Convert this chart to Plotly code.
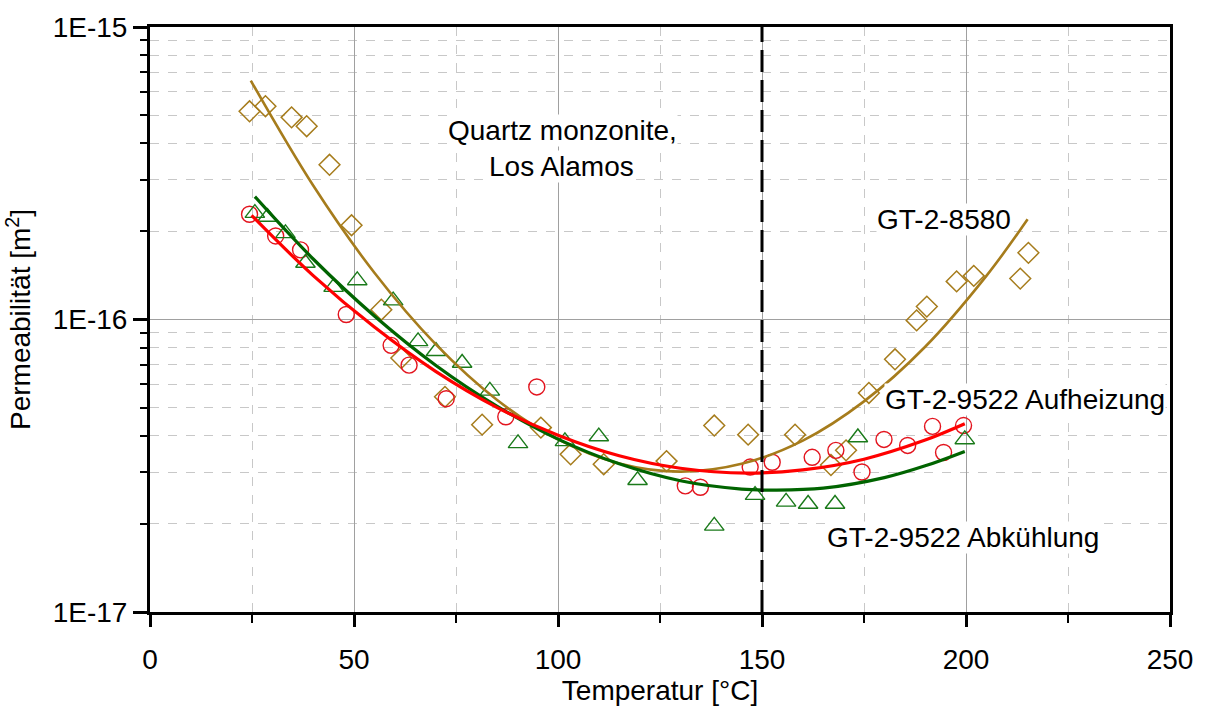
import plotly.graph_objects as go

# ---------------- data ----------------
# GT-2-8580 (diamonds)
t_8580 = [24.4, 28.3, 34.7, 38.4, 44.0, 49.4, 56.7, 61.6, 72.3, 81.4, 95.8, 103.1, 111.2,
          126.6, 138.3, 146.6, 158.1, 166.9, 170.6, 176.2, 182.6, 187.9, 190.4, 197.7,
          201.9, 213.3, 215.3]
k_8580 = [5.15e-16, 5.36e-16, 4.91e-16, 4.58e-16, 3.38e-16, 2.10e-16, 1.08e-16, 7.38e-17,
          5.44e-17, 4.37e-17, 4.27e-17, 3.46e-17, 3.20e-17, 3.28e-17, 4.34e-17, 4.04e-17,
          4.04e-17, 3.18e-17, 3.57e-17, 5.61e-17, 7.31e-17, 9.93e-17, 1.107e-16, 1.35e-16,
          1.41e-16, 1.38e-16, 1.69e-16]

# GT-2-9522 Aufheizung (circles)
t_auf = [24.4, 30.8, 36.9, 48.1, 59.1, 63.5, 72.6, 87.2, 94.8, 131.2, 134.9, 147.1, 152.5,
         162.3, 168.1, 174.5, 179.9, 185.7, 191.8, 194.5, 199.4]
k_auf = [2.29e-16, 1.93e-16, 1.73e-16, 1.04e-16, 8.16e-17, 6.98e-17, 5.36e-17, 4.65e-17,
         5.88e-17, 2.70e-17, 2.67e-17, 3.13e-17, 3.25e-17, 3.38e-17, 3.57e-17, 3.01e-17,
         3.89e-17, 3.71e-17, 4.31e-17, 3.51e-17, 4.34e-17]

# GT-2-9522 Abkuehlung (triangles)
t_ab = [25.7, 28.8, 33.2, 38.1, 45.0, 50.8, 59.6, 65.7, 70.1, 76.5, 83.3, 90.2, 101.7, 110.0,
        119.5, 138.3, 148.3, 155.9, 161.3, 167.9, 173.5, 199.7]
k_ab = [2.31e-16, 2.24e-16, 1.97e-16, 1.56e-16, 1.29e-16, 1.36e-16, 1.16e-16, 8.42e-17,
        7.79e-17, 7.10e-17, 5.70e-17, 3.77e-17, 3.83e-17, 3.98e-17, 2.82e-17, 1.97e-17,
        2.51e-17, 2.38e-17, 2.34e-17, 2.34e-17, 3.95e-17, 3.89e-17]

# fitted curves
fit_t_8580 = [24.7, 40, 55, 70, 85, 100, 115, 130, 145, 160, 175, 190, 205, 215.1]
fit_k_8580 = [6.56e-16, 2.87e-16, 1.445e-16, 8.24e-17, 5.32e-17, 3.89e-17, 3.22e-17,
              3.02e-17, 3.21e-17, 3.855e-17, 5.25e-17, 8.07e-17, 1.41e-16, 2.20e-16]

fit_t_auf = [24.9, 40, 55, 70, 85, 100, 115, 130, 146.5, 160, 175, 190, 199.7]
fit_k_auf = [2.27e-16, 1.413e-16, 9.42e-17, 6.65e-17, 5.01e-17, 4.02e-17, 3.42e-17,
             3.10e-17, 2.985e-17, 3.06e-17, 3.33e-17, 3.87e-17, 4.40e-17]

fit_t_ab = [25.7, 40, 55, 70, 85, 100, 115, 130, 145, 153.3, 165, 180, 190, 199.7]
fit_k_ab = [2.63e-16, 1.61e-16, 1.028e-16, 6.98e-17, 5.06e-17, 3.90e-17, 3.21e-17,
            2.81e-17, 2.63e-17, 2.61e-17, 2.65e-17, 2.88e-17, 3.16e-17, 3.54e-17]

x_ticks = [0, 50, 100, 150, 200, 250]
x_minor = [25, 75, 125, 175, 225]
y_ticks = [1e-17, 1e-16, 1e-15]
y_ticktext = ["1E-17", "1E-16", "1E-15"]
divider_t = 150

GOLD = "#A67C1C"
RED_LINE = "#FF0000"
RED_MARK = "#E3141E"
GREEN_LINE = "#006400"
GREEN_MARK = "#1A7A1A"
FONT = "Liberation Sans, Arial, sans-serif"
FS = 28

fig = go.Figure()

fig.add_trace(go.Scatter(x=t_8580, y=k_8580, mode="markers",
                         marker=dict(symbol="diamond-open", size=16, color=GOLD,
                                     line=dict(width=1.5, color=GOLD))))
fig.add_trace(go.Scatter(x=t_auf, y=k_auf, mode="markers",
                         marker=dict(symbol="circle-open", size=16, color=RED_MARK,
                                     line=dict(width=1.4, color=RED_MARK))))
fig.add_trace(go.Scatter(x=t_ab, y=k_ab, mode="markers",
                         marker=dict(symbol="triangle-up-open", size=17, color=GREEN_MARK,
                                     line=dict(width=1.4, color=GREEN_MARK))))

fig.add_trace(go.Scatter(x=fit_t_8580, y=fit_k_8580, mode="lines",
                         line=dict(color=GOLD, width=2.6, shape="spline", smoothing=1)))
fig.add_trace(go.Scatter(x=fit_t_ab, y=fit_k_ab, mode="lines",
                         line=dict(color=GREEN_LINE, width=3.2, shape="spline", smoothing=1)))
fig.add_trace(go.Scatter(x=fit_t_auf, y=fit_k_auf, mode="lines",
                         line=dict(color=RED_LINE, width=3.2, shape="spline", smoothing=1)))

fig.add_shape(type="line", xref="x", yref="paper", x0=divider_t, x1=divider_t, y0=0, y1=1,
              line=dict(color="black", width=3, dash="22px,8px"))

minor_y = [m * 10 ** e for e in (-17, -16) for m in range(2, 10)]

fig.update_xaxes(range=[0, 250], tickmode="array", tickvals=x_ticks,
                 ticks="outside", ticklen=12, tickwidth=2.5, tickcolor="black",
                 ticklabelstandoff=8,
                 showline=True, linewidth=3, linecolor="black", mirror=True,
                 showgrid=True, gridcolor="#a0a0a0", gridwidth=1, zeroline=False,
                 minor=dict(tickmode="array", tickvals=x_minor,
                            ticks="outside", ticklen=8, tickwidth=2, tickcolor="black",
                            showgrid=True, gridcolor="#c8c8c8", griddash="dash", gridwidth=1),
                 tickfont=dict(family=FONT, size=FS, color="black"),
                 title=dict(text="Temperatur [°C]", font=dict(family=FONT, size=FS, color="black"),
                            standoff=0))

fig.update_yaxes(type="log", range=[-17, -15], tickmode="array", tickvals=y_ticks,
                 ticktext=y_ticktext, ticks="outside", ticklen=14, tickwidth=2.5,
                 tickcolor="black", showline=True, linewidth=3, linecolor="black", mirror=True,
                 showgrid=True, gridcolor="#a0a0a0", gridwidth=1, zeroline=False,
                 minor=dict(tickmode="array", tickvals=minor_y, ticks="outside", ticklen=7,
                            tickwidth=2, tickcolor="black", showgrid=True, gridcolor="#c8c8c8",
                            griddash="dash", gridwidth=1),
                 tickfont=dict(family=FONT, size=FS, color="black"),
                 title=dict(text="Permeabilität [m<sup>2</sup>]",
                            font=dict(family=FONT, size=FS, color="black"), standoff=14))

ann_font = dict(family=FONT, size=FS, color="black")
annotations = [
    ("Quartz monzonite,", 101.2, -15.353),
    ("Los Alamos", 100.9, -15.478),
    ("GT-2-8580", 194.5, -15.658),
    ("GT-2-9522 Aufheizung", 214.4, -16.275),
    ("GT-2-9522 Abkühlung", 199.3, -16.746),
]
for text, ax_, ay_ in annotations:
    fig.add_annotation(x=ax_, y=ay_, xref="x", yref="y", text=text, showarrow=False,
                       font=ann_font, bgcolor="white", borderpad=0)

fig.update_layout(width=1205, height=708, showlegend=False,
                  margin=dict(l=150, r=32, t=22, b=96),
                  paper_bgcolor="white", plot_bgcolor="white")

fig.write_html("out.html")
